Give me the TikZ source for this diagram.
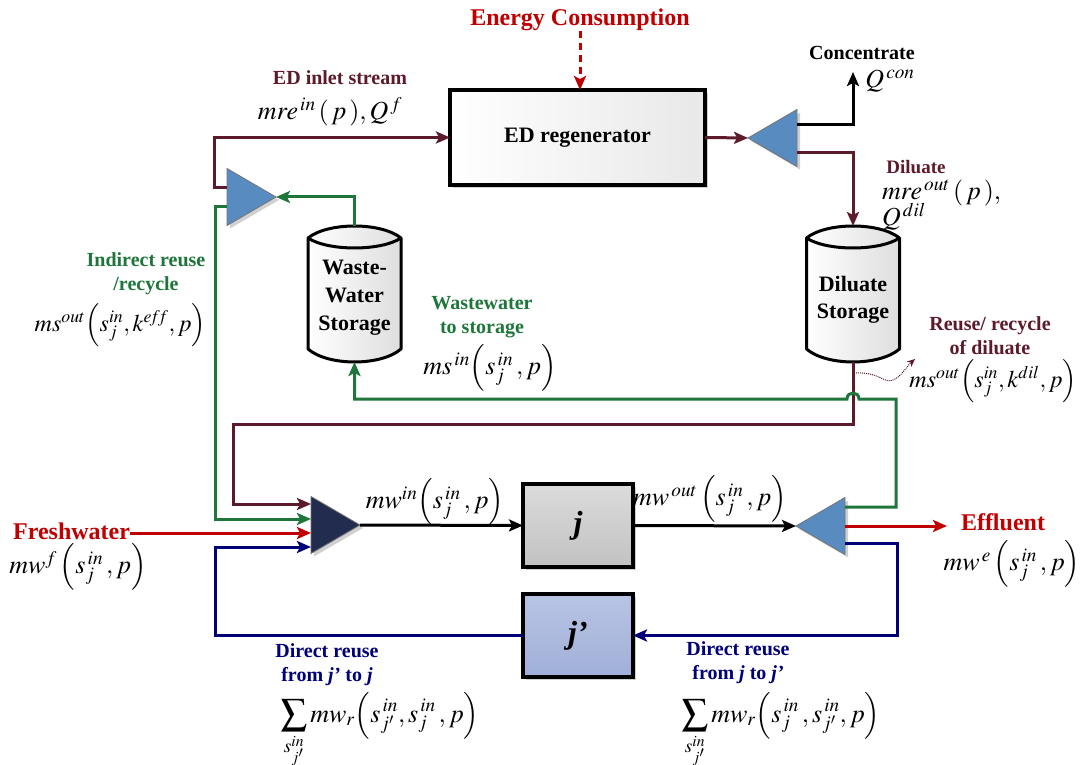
\documentclass[tikz,border=0pt]{standalone}
\usepackage{mathptmx}
\usepackage[no-math]{fontspec}
\setmainfont{Liberation Serif}
\usetikzlibrary{arrows.meta,shapes.geometric,calc,shadows}
\definecolor{cMaroon}{RGB}{92,26,43}
\definecolor{cGreen}{RGB}{30,118,58}
\definecolor{cRed}{RGB}{192,0,0}
\definecolor{cNavy}{RGB}{0,0,120}
\definecolor{cTri}{RGB}{88,140,193}
\definecolor{cDark}{RGB}{34,44,78}
\newcommand{\fsz}[2]{\fontsize{#1}{#2}\selectfont}
\tikzset{
  every node/.style={inner sep=0pt, outer sep=0pt},
  shad/.style={drop shadow={shadow xshift=3pt,shadow yshift=-3pt,opacity=0.3,fill=black!60}},
  arr/.style={-{Stealth[length=14pt,width=12pt,inset=3pt]}},
  mline/.style={draw=cMaroon, line width=3pt},
  gline/.style={draw=cGreen, line width=3pt},
  rline/.style={draw=cRed, line width=3pt},
  nline/.style={draw=cNavy, line width=3pt},
  kline/.style={draw=black, line width=3pt},
  lbl/.style={font=\fsz{20}{24}\bfseries, align=center},
  mth/.style={font=\fsz{26}{30}},
  mths/.style={font=\fsz{24}{28}},
  tri/.style={isosceles triangle, isosceles triangle stretches, minimum width=57pt, minimum height=49pt,
     draw=black!55, line width=0.8pt, fill=cTri, shad},
  boxbase/.style={rectangle, draw=black, line width=4pt, shad},
  cylnode/.style={rectangle, minimum width=93pt, minimum height=136pt},
  cyltext/.style={font=\fsz{22}{28}\bfseries, align=center},
}
\newcommand{\cylpath}[1]{%
  \path[draw=black, line width=3pt, line join=round, left color=white, right color=black!13]
    ($(#1.north west)+(0,12)$) .. controls ($(#1.north west)+(20,-4)$) and ($(#1.north east)+(-20,-4)$) .. ($(#1.north east)+(0,12)$)
    -- ($(#1.south east)+(0,-13)$) .. controls ($(#1.south east)+(-20,4.3)$) and ($(#1.south west)+(20,4.3)$) .. ($(#1.south west)+(0,-13)$)
    -- cycle;
  \draw[line width=3pt] ($(#1.north west)+(0,12)$) .. controls ($(#1.north west)+(20,25.3)$) and ($(#1.north east)+(-20,25.3)$) .. ($(#1.north east)+(0,12)$);
}
\begin{document}
\begin{tikzpicture}[x=1pt,y=-1pt]
\useasboundingbox (0,0) rectangle (1080,765);
\fill[white] (0,0) rectangle (1080,765);

% ---- main blocks
\node[boxbase, minimum width=255pt, minimum height=95pt, left color=white, right color=black!9,
      font=\fsz{22}{26}\bfseries] (ed) at (577.5,137.5) {ED regenerator};
\node[boxbase, minimum width=110pt, minimum height=83pt, top color=black!14, bottom color=black!24,
      font=\fsz{32}{36}\bfseries\itshape] (j) at (578,525.5) {j};
\node[boxbase, minimum width=110pt, minimum height=83pt, top color={rgb,255:red,184;green,196;blue,228}, bottom color={rgb,255:red,160;green,175;blue,216},
      font=\fsz{32}{36}\bfseries\itshape] (jp) at (578,635.5) {j’};

% ---- storages
\node[cylnode] (wst) at (354.5,294) {};
\cylpath{wst}
\node[cyltext] (wstT) at (354.5,298) {Waste-\\Water\\Storage};
\node[cylnode] (dst) at (853,294) {};
\cylpath{dst}
\node[cyltext, font=\fsz{22}{27}\bfseries] (dstT) at (853,300) {Diluate\\Storage};

% ---- splitters / mixer
\node[tri, anchor=apex] (spl1) at (276,197) {};
\node[tri, shape border rotate=180, anchor=apex] (spl2) at (748,138) {};
\node[tri, shape border rotate=180, anchor=apex] (spl3) at (796,526) {};
\node[tri, fill=cDark, anchor=apex] (mix) at (360,525) {};

% ---- labels
\node[font=\fsz{24}{28}\bfseries, text=cRed] (energy) at (580,20) {Energy Consumption};
\node[lbl, text=cMaroon] (edin) at (340,78) {ED inlet stream};
\node[mth] (edinF) at (330,112) {$mre^{\,in}\left(\,p\,\right)\!,Q^{\,f}$};
\node[lbl] (conc) at (862,53) {Concentrate};
\coordinate (concTip) at (853,72);
\node[mth] (qcon) at (890,81) {$Q^{\,con}$};
\node[lbl, font=\fsz{19}{23}\bfseries, text=cMaroon] (dil) at (916,167) {Diluate};
\node[mth, anchor=west] (dilF1) at (882,193) {$mre^{\,out}\left(\,p\,\right)\!,$};
\node[mth, anchor=west] (dilF2) at (882,217) {$Q^{\,dil}$};
\node[lbl, text=cGreen] (indir) at (146,274) {Indirect reuse\\/recycle};
\node[mths, anchor=east] (indirF) at (206,325) {$ms^{out}\!\left(s^{in}_{j},k^{e\!f\!f},p\right)$};
\node[lbl, text=cGreen] (wwl) at (482,317) {Wastewater\\to storage};
\node[mth] (wwF) at (490,368) {$ms^{\,in}\!\left(s^{\,in}_{j}\,,p\right)$};
\node[lbl, text=cMaroon] (reul) at (990,336) {Reuse/ recycle\\of diluate};
\node[mths, anchor=east] (reuF) at (1077,381) {$ms^{out}\!\left(s^{in}_{j},k^{dil},p\right)$};
\node[font=\fsz{24}{28}\bfseries, text=cRed, anchor=east] (fresh) at (130,531) {Freshwater};
\node[mth] (freshF) at (78,567) {$mw^{f}\left(s^{\,in}_{j}\,,p\right)$};
\node[font=\fsz{24}{28}\bfseries, text=cRed] (eff) at (1003,522) {Effluent};
\node[mth] (effF) at (1012,564) {$mw^{\,e}\left(s^{\,in}_{j}\,,p\right)$};
\node[mth] (mwin) at (435,502) {$mw^{in}\!\left(s^{\,in}_{j}\,,p\right)$};
\node[mth] (mwout) at (710,499) {$mw^{\,out}\left(s^{\,in}_{j}\,,p\right)$};
\node[lbl, text=cNavy] (dr1) at (327,665) {Direct reuse\\from \textit{j’} to \textit{j}};
\node[mth, anchor=base] (dr1F) at (380,722) {$\displaystyle\sum_{s^{in}_{j'}} mw_r\!\left(s^{\,in}_{j'},s^{\,in}_{j}\,,p\right)$};
\node[lbl, text=cNavy] (dr2) at (738,663) {Direct reuse\\from \textit{j} to \textit{j’}};
\node[mth, anchor=base] (dr2F) at (781,722) {$\displaystyle\sum_{s^{in}_{j'}} mw_r\!\left(s^{\,in}_{j}\,,s^{\,in}_{j'},p\right)$};

% ---- connectors
\draw[rline, dash pattern=on 7pt off 5pt, arr] (energy.south) -- (energy.south |- ed.north);
\draw[mline, arr] ([yshift=9pt]spl1.west) -- ++(-13,0) |- (ed.west);
\draw[gline, arr] (wst.north) |- (spl1.apex);
\draw[gline, arr] ([yshift=-10pt]spl1.west) -- ++(-12,0) |- ([yshift=6pt]mix.west);
\draw[mline, arr] (ed.east) -- (spl2.apex);
\draw[kline, arr] ([yshift=13pt]spl2.east) -| (concTip);
\draw[mline, arr] ([yshift=-15pt]spl2.east) -| (dst.north);
\draw[mline, arr] (dst.south) -- ++(0,62) -- ++(-620,0) |- ([yshift=21pt]mix.west);
\coordinate (hopR) at (859,399);
\coordinate (hopL) at (847,399);
\draw[gline, arr] ([yshift=19pt]spl3.east) -- ++(51,0) |- (hopR)
   .. controls ($(hopR)+(0,-8)$) and ($(hopL)+(0,-8)$) .. (hopL) -| (wst.south);
\draw[rline, arr] ([yshift=-8pt]mix.west -| fresh.east) -- ([yshift=-8pt]mix.west);
\draw[nline, arr] (jp.west) -- ++(-308,0) |- ([yshift=-22pt]mix.west);
\draw[kline, arr] (mix.apex) -- (j.west);
\draw[kline, arr] (j.east) -- (spl3.apex);
\draw[rline, arr] (spl3.east) -- ($(spl3.east -| eff.west)+(-14,0)$);
\draw[nline, arr] ([yshift=-17pt]spl3.east) -- ++(52,0) |- (jp.east);
\coordinate (dotS) at (856,373);
\coordinate (dotE) at (915,359);
\draw[cMaroon, line width=1pt, densely dotted, -{Stealth[length=8pt,width=7pt]}] (dotS)
   .. controls (880,372) and (884,384) .. (893,380) .. controls (901,377) and (907,366) .. (dotE);
\end{tikzpicture}
\end{document}
